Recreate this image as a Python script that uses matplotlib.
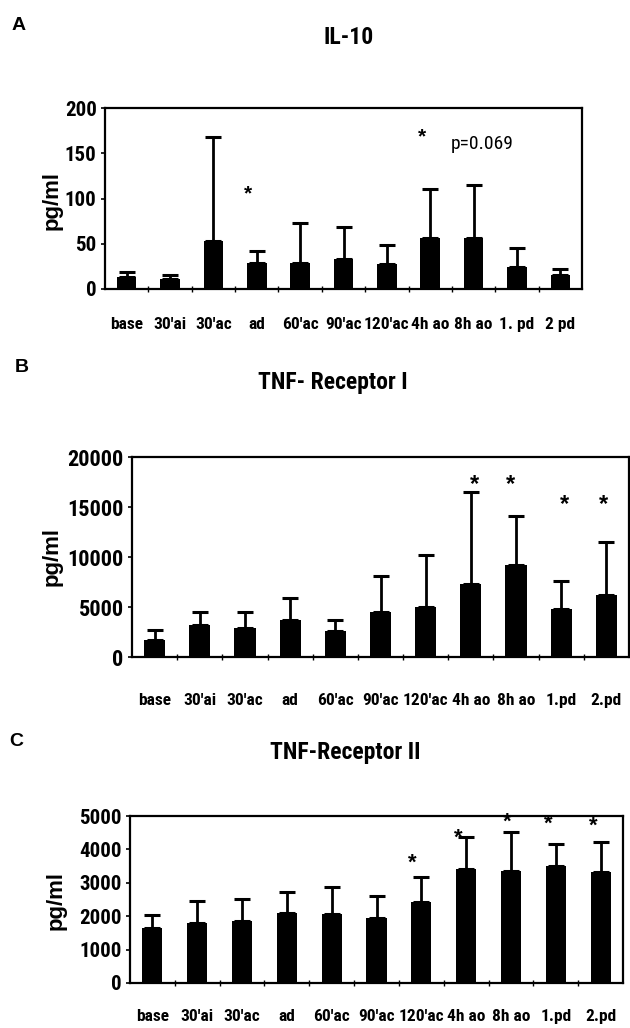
import matplotlib
matplotlib.use("Agg")
import matplotlib.pyplot as plt
from matplotlib import font_manager
from matplotlib.font_manager import FontProperties
from matplotlib.ticker import FixedLocator, NullFormatter
import numpy as np

# ---------------- data ----------------
cats_a = ["base", "30'ai", "30'ac", "ad", "60'ac", "90'ac", "120'ac", "4h ao", "8h ao", "1. pd", "2 pd"]
cats_b = ["base", "30'ai", "30'ac", "ad", "60'ac", "90'ac", "120'ac", "4h ao", "8h ao", "1.pd", "2.pd"]
cats_c = ["base", "30'ai", "30'ac", "ad", "60'ac", "90'ac", "120'ac", "4h ao", "8h ao", "1.pd", "2.pd"]

il10_mean = [13.5, 11, 53, 29, 29, 33.5, 27.5, 56, 56, 24, 15]
il10_top = [19, 16, 168, 42.5, 73, 68, 49, 110, 114.5, 45, 22.5]

tnfr1_mean = [1740, 3210, 2940, 3680, 2610, 4480, 5020, 7290, 9230, 4820, 6220]
tnfr1_top = [2670, 4550, 4550, 5950, 3680, 8090, 10200, 16550, 14150, 7630, 11470]

tnfr2_mean = [1640, 1810, 1850, 2090, 2070, 1950, 2430, 3410, 3350, 3510, 3320]
tnfr2_top = [2030, 2460, 2510, 2730, 2870, 2610, 3160, 4370, 4530, 4150, 4210]

ticks_a = [0, 50, 100, 150, 200]
ticks_b = [0, 5000, 10000, 15000, 20000]
ticks_c = [0, 1000, 2000, 3000, 4000, 5000]

# significance marks: (category position, y value)
stars_a_x = [2.8, 6.8]
stars_a_y = [105, 168]
stars_b_x = [7.07, 7.88, 9.08, 9.94]
stars_b_y = [17250, 17250, 15230, 15230]
stars_c_x = [5.79, 6.82, 7.92, 8.83, 9.83]
stars_c_y = [3590, 4330, 4800, 4750, 4680]

# ---------------- fonts ----------------
def find_condensed(bold=True):
    cands = []
    for f in font_manager.fontManager.ttflist:
        nm = f.name.lower()
        path = f.fname.lower()
        cond = ("narrow" in nm or "condensed" in nm or "narrow" in path or "condensed" in path
                or str(f.stretch) in ("condensed", "semi-condensed", "extra-condensed"))
        if not cond:
            continue
        w = f.weight if isinstance(f.weight, int) else (700 if "bold" in str(f.weight) else 400)
        if "italic" in str(f.style) or "oblique" in str(f.style) or "italic" in path:
            continue
        score = 0
        if "liberation" in nm or "liberation" in path:
            score += 10
        if "arial" in nm:
            score += 12
        if "roboto" in nm:
            score += 6
        if "dejavu" in nm or "dejavu" in path:
            score += 4
        score -= abs(w - (700 if bold else 400)) / 100.0
        cands.append((score, f.fname))
    if not cands:
        return None
    cands.sort(reverse=True)
    return cands[0][1]

cpath_b = find_condensed(True)
cpath_r = find_condensed(False)
HAVE_NARROW = cpath_b is not None


def FPn(size, bold=True):
    if HAVE_NARROW:
        return FontProperties(fname=(cpath_b if bold else (cpath_r or cpath_b)), size=size)
    return FontProperties(family=["Liberation Sans", "DejaVu Sans"],
                          weight="bold" if bold else "normal", size=size * 0.86)


def FPr(size, bold=True):
    return FontProperties(family=["Liberation Sans", "DejaVu Sans"],
                          weight="bold" if bold else "normal", size=size)


W, H = 630, 1028
fig = plt.figure(figsize=(W / 100, H / 100), dpi=100)


def px_axes(left, right, top, bottom):
    return fig.add_axes([left / W, 1 - bottom / H, (right - left) / W, (bottom - top) / H])


def panel(ax, cats, mean, top, yticks, ymax, xpad, ytick_size, width):
    x = np.arange(len(cats))
    mean = np.asarray(mean, float)
    err = np.asarray(top, float) - mean
    ax.bar(x, mean, width=width, color="black", zorder=2)
    ax.errorbar(x, mean, yerr=[np.zeros_like(err), err], fmt="none",
                ecolor="black", elinewidth=2, capsize=5.5, capthick=2.2, zorder=1)
    ax.set_xlim(-0.5, len(cats) - 0.5)
    ax.set_ylim(0, ymax)
    ax.set_yticks(yticks)
    ax.set_yticklabels([str(t) for t in yticks], fontproperties=FPn(ytick_size))
    ax.set_xticks(x)
    ax.set_xticklabels(cats, fontproperties=FPn(12.5))
    ax.xaxis.set_minor_locator(FixedLocator(np.arange(0.5, len(cats) - 0.5, 1.0)))
    ax.xaxis.set_minor_formatter(NullFormatter())
    ax.tick_params(axis="x", which="major", length=0, pad=xpad)
    ax.tick_params(axis="x", which="minor", length=5, width=1, direction="inout")
    ax.tick_params(axis="y", length=3, width=1.2, direction="out", pad=3)
    for s in ax.spines.values():
        s.set_linewidth(1.6)
        s.set_color("black")
    return x


def stars(ax, xs, ys, size=16):
    for xx, yy in zip(xs, ys):
        ax.text(xx, yy, "*", ha="center", va="center", fontproperties=FPr(size))


# Panel A
axA = px_axes(105, 582, 108, 289)
panel(axA, cats_a, il10_mean, il10_top, ticks_a, 200, 20, 15, 0.45)
stars(axA, stars_a_x, stars_a_y, 15)
axA.text(8.2, 160, "p=0.069", ha="center", va="center", fontproperties=FPn(14, bold=False))

# Panel B
axB = px_axes(132, 629, 457, 657)
panel(axB, cats_b, tnfr1_mean, tnfr1_top, ticks_b, 20000, 26, 16, 0.47)
stars(axB, stars_b_x, stars_b_y, 17)

# Panel C
axC = px_axes(130, 623, 816, 983)
panel(axC, cats_c, tnfr2_mean, tnfr2_top, ticks_c, 5000, 19, 15, 0.45)
stars(axC, stars_c_x, stars_c_y, 16)


def ftext(x, y, s, fp, **kw):
    fig.text(x / W, 1 - y / H, s, fontproperties=fp, ha="center", va="center", **kw)


ftext(19, 25, "A", FPr(14))
ftext(22, 367, "B", FPr(14))
ftext(16, 742, "C", FPr(14))

ftext(349, 37, "IL-10", FPn(17))
ftext(333, 383, "TNF- Receptor I", FPn(17))
ftext(345, 752, "TNF-Receptor II", FPn(17))

ftext(52, 200, "pg/ml", FPr(16), rotation=90)
ftext(52, 557, "pg/ml", FPr(16), rotation=90)
ftext(56, 900, "pg/ml", FPr(16), rotation=90)

fig.savefig("out.png", dpi=100, facecolor="white")
